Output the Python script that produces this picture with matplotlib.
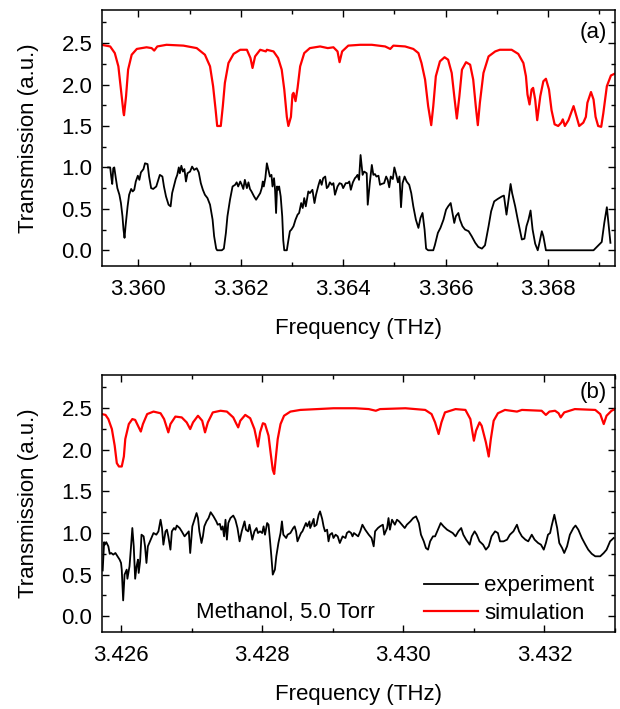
import matplotlib
matplotlib.use("Agg")
import matplotlib.pyplot as plt
from matplotlib.ticker import MultipleLocator, FormatStrFormatter

plt.rcParams["font.family"] = ["Liberation Sans", "DejaVu Sans"]

# (a) simulation, 3.359-3.369 THz
sim_a_freq = [3.35928, 3.35945, 3.35954, 3.35961, 3.35966, 3.35971, 3.35972, 3.35976, 3.35980,
              3.35987, 3.35997, 3.36016, 3.36026, 3.36031, 3.36037, 3.36055, 3.36088, 3.36114,
              3.36130, 3.36140, 3.36146, 3.36151, 3.36154, 3.36161, 3.36165, 3.36169, 3.36176,
              3.36186, 3.36199, 3.36212, 3.36219, 3.36223, 3.36228, 3.36238, 3.36249, 3.36251,
              3.36264, 3.36273, 3.36280, 3.36285, 3.36290, 3.36293, 3.36298, 3.36301, 3.36303,
              3.36307, 3.36311, 3.36316, 3.36324, 3.36335, 3.36355, 3.36370, 3.36381, 3.36389,
              3.36393, 3.36398, 3.36410, 3.36433, 3.36456, 3.36482, 3.36492, 3.36498, 3.36521,
              3.36537, 3.36547, 3.36553, 3.36560, 3.36566, 3.36572, 3.36576, 3.36581, 3.36589,
              3.36598, 3.36605, 3.36612, 3.36617, 3.36622, 3.36627, 3.36632, 3.36640, 3.36648,
              3.36654, 3.36659, 3.36663, 3.36667, 3.36674, 3.36684, 3.36697, 3.36706, 3.36729,
              3.36742, 3.36752, 3.36757, 3.36760, 3.36764, 3.36768, 3.36771, 3.36775, 3.36779,
              3.36785, 3.36791, 3.36796, 3.36802, 3.36807, 3.36813, 3.36820, 3.36826, 3.36829,
              3.36833, 3.36840, 3.36850, 3.36856, 3.36861, 3.36869, 3.36874, 3.36877, 3.36884,
              3.36889, 3.36893, 3.36898, 3.36904, 3.36908, 3.36915, 3.36923, 3.36930]
sim_a_val = [2.48, 2.46, 2.38, 2.22, 1.94, 1.66, 1.63, 1.86, 2.18,
             2.36, 2.43, 2.45, 2.44, 2.41, 2.46, 2.48, 2.47, 2.44,
             2.36, 2.22, 1.98, 1.69, 1.50, 1.50, 1.74, 2.02, 2.26,
             2.37, 2.42, 2.42, 2.32, 2.20, 2.34, 2.42, 2.40, 2.42,
             2.40, 2.32, 2.18, 1.94, 1.61, 1.50, 1.61, 1.88, 1.90,
             1.80, 1.96, 2.22, 2.38, 2.44, 2.46, 2.44, 2.45, 2.40,
             2.27, 2.40, 2.47, 2.48, 2.48, 2.46, 2.43, 2.47, 2.46,
             2.43, 2.38, 2.26, 2.06, 1.74, 1.51, 1.74, 2.10, 2.28,
             2.33, 2.30, 2.14, 1.86, 1.59, 1.86, 2.18, 2.27, 2.24,
             2.06, 1.74, 1.51, 1.78, 2.14, 2.34, 2.40, 2.42, 2.42,
             2.37, 2.26, 2.10, 1.88, 1.76, 1.94, 1.96, 1.82, 1.57,
             1.86, 2.04, 2.07, 1.94, 1.69, 1.52, 1.50, 1.54, 1.58,
             1.50, 1.57, 1.74, 1.61, 1.50, 1.54, 1.61, 1.78, 1.91,
             1.82, 1.61, 1.50, 1.49, 1.65, 1.98, 2.11, 2.13]

# (a) experiment
exp_a_freq = [3.35941, 3.35945, 3.35947, 3.35949, 3.35951, 3.35953, 3.35956, 3.35959, 3.35963,
              3.35966, 3.35969, 3.35971, 3.35973, 3.35975, 3.35979, 3.35982, 3.35986, 3.35989,
              3.35992, 3.35995, 3.35999, 3.36002, 3.36005, 3.36010, 3.36013, 3.36018, 3.36021,
              3.36025, 3.36029, 3.36035, 3.36038, 3.36042, 3.36047, 3.36050, 3.36054, 3.36059,
              3.36063, 3.36066, 3.36070, 3.36073, 3.36076, 3.36079, 3.36081, 3.36084, 3.36087,
              3.36090, 3.36093, 3.36096, 3.36101, 3.36105, 3.36109, 3.36114, 3.36118, 3.36122,
              3.36126, 3.36130, 3.36135, 3.36140, 3.36145, 3.36148, 3.36152, 3.36154, 3.36163,
              3.36167, 3.36171, 3.36174, 3.36179, 3.36184, 3.36189, 3.36192, 3.36195, 3.36199,
              3.36202, 3.36205, 3.36208, 3.36212, 3.36215, 3.36218, 3.36221, 3.36226, 3.36230,
              3.36234, 3.36238, 3.36241, 3.36243, 3.36245, 3.36248, 3.36251, 3.36254, 3.36257,
              3.36260, 3.36262, 3.36265, 3.36267, 3.36269, 3.36271, 3.36273, 3.36275, 3.36278,
              3.36281, 3.36283, 3.36285, 3.36290, 3.36293, 3.36296, 3.36299, 3.36303, 3.36307,
              3.36311, 3.36314, 3.36318, 3.36321, 3.36324, 3.36327, 3.36332, 3.36335, 3.36340,
              3.36344, 3.36347, 3.36352, 3.36355, 3.36358, 3.36361, 3.36365, 3.36368, 3.36371,
              3.36374, 3.36378, 3.36381, 3.36384, 3.36389, 3.36393, 3.36397, 3.36400, 3.36405,
              3.36409, 3.36412, 3.36415, 3.36419, 3.36423, 3.36426, 3.36428, 3.36431, 3.36434,
              3.36438, 3.36441, 3.36446, 3.36448, 3.36452, 3.36456, 3.36459, 3.36462, 3.36465,
              3.36469, 3.36472, 3.36475, 3.36480, 3.36484, 3.36487, 3.36490, 3.36493, 3.36497,
              3.36500, 3.36503, 3.36507, 3.36510, 3.36513, 3.36516, 3.36520, 3.36524, 3.36529,
              3.36533, 3.36537, 3.36542, 3.36547, 3.36551, 3.36555, 3.36559, 3.36562, 3.36566,
              3.36576, 3.36579, 3.36585, 3.36590, 3.36596, 3.36601, 3.36605, 3.36610, 3.36613,
              3.36617, 3.36620, 3.36625, 3.36628, 3.36633, 3.36638, 3.36645, 3.36651, 3.36658,
              3.36664, 3.36671, 3.36677, 3.36684, 3.36689, 3.36695, 3.36702, 3.36710, 3.36714,
              3.36719, 3.36723, 3.36727, 3.36730, 3.36736, 3.36741, 3.36745, 3.36749, 3.36754,
              3.36758, 3.36762, 3.36766, 3.36770, 3.36775, 3.36780, 3.36783, 3.36788, 3.36791,
              3.36796, 3.36889, 3.36905, 3.36910, 3.36915, 3.36918, 3.36922]
exp_a_val = [1.00, 1.00, 0.89, 0.80, 0.99, 1.00, 0.87, 0.75, 0.67,
             0.57, 0.41, 0.25, 0.15, 0.29, 0.53, 0.67, 0.74, 0.71,
             0.73, 0.83, 0.90, 0.85, 0.94, 0.98, 1.05, 1.04, 0.89,
             0.75, 0.74, 0.77, 0.83, 0.91, 0.89, 0.77, 0.65, 0.55,
             0.53, 0.69, 0.79, 0.86, 0.91, 1.00, 0.93, 1.02, 0.95,
             0.98, 0.83, 0.93, 0.95, 1.01, 0.97, 0.99, 0.94, 0.81,
             0.73, 0.67, 0.63, 0.55, 0.37, 0.17, 0.02, 0.00, 0.00,
             0.02, 0.21, 0.41, 0.61, 0.77, 0.79, 0.82, 0.77, 0.83,
             0.79, 0.74, 0.85, 0.75, 0.82, 0.74, 0.71, 0.65, 0.61,
             0.65, 0.69, 0.75, 0.83, 0.77, 0.87, 1.05, 0.97, 0.89,
             0.91, 0.77, 0.87, 0.73, 0.45, 0.77, 0.73, 0.77, 0.65,
             0.41, 0.12, 0.00, 0.00, 0.12, 0.23, 0.25, 0.29, 0.37,
             0.43, 0.45, 0.57, 0.51, 0.63, 0.53, 0.71, 0.69, 0.73,
             0.57, 0.67, 0.79, 0.85, 0.79, 0.87, 0.89, 0.75, 0.77,
             0.82, 0.79, 0.81, 0.67, 0.77, 0.81, 0.80, 0.75, 0.81,
             0.81, 0.83, 0.73, 0.82, 0.87, 0.89, 0.91, 0.85, 1.15,
             0.91, 0.95, 0.93, 0.55, 0.81, 1.03, 0.91, 0.92, 0.89,
             0.90, 0.79, 0.80, 0.81, 0.89, 0.85, 0.76, 0.89, 0.86,
             1.00, 0.93, 0.82, 0.89, 0.52, 0.81, 0.89, 0.83, 0.79,
             0.69, 0.53, 0.37, 0.27, 0.39, 0.45, 0.25, 0.02, 0.00,
             0.00, 0.06, 0.21, 0.27, 0.37, 0.49, 0.53, 0.57, 0.47,
             0.33, 0.41, 0.45, 0.37, 0.29, 0.25, 0.23, 0.17, 0.09,
             0.04, 0.02, 0.06, 0.29, 0.47, 0.59, 0.62, 0.65, 0.66,
             0.43, 0.61, 0.80, 0.69, 0.53, 0.37, 0.25, 0.13, 0.14,
             0.29, 0.37, 0.48, 0.25, 0.08, 0.00, 0.08, 0.23, 0.17,
             0.00, 0.00, 0.10, 0.33, 0.52, 0.33, 0.09]

# (b) simulation, 3.4257-3.4330 THz
sim_b_freq = [3.42573, 3.42578, 3.42582, 3.42587, 3.42591, 3.42594, 3.42597, 3.42601, 3.42604,
              3.42606, 3.42611, 3.42616, 3.42620, 3.42624, 3.42628, 3.42631, 3.42637, 3.42646,
              3.42656, 3.42661, 3.42664, 3.42667, 3.42670, 3.42677, 3.42686, 3.42693, 3.42698,
              3.42702, 3.42709, 3.42715, 3.42719, 3.42723, 3.42730, 3.42741, 3.42750, 3.42759,
              3.42763, 3.42766, 3.42769, 3.42776, 3.42783, 3.42789, 3.42792, 3.42794, 3.42797,
              3.42801, 3.42804, 3.42809, 3.42812, 3.42815, 3.42817, 3.42819, 3.42822, 3.42826,
              3.42831, 3.42840, 3.42854, 3.42878, 3.42901, 3.42932, 3.42951, 3.42961, 3.42967,
              3.43003, 3.43031, 3.43040, 3.43045, 3.43050, 3.43054, 3.43059, 3.43074, 3.43088,
              3.43095, 3.43098, 3.43100, 3.43103, 3.43108, 3.43111, 3.43117, 3.43121, 3.43124,
              3.43128, 3.43134, 3.43144, 3.43161, 3.43168, 3.43196, 3.43202, 3.43207, 3.43215,
              3.43220, 3.43223, 3.43228, 3.43243, 3.43272, 3.43279, 3.43284, 3.43288, 3.43295,
              3.43300]
sim_b_val = [2.43, 2.42, 2.37, 2.25, 2.05, 1.84, 1.80, 1.80, 1.92,
             2.13, 2.31, 2.37, 2.36, 2.29, 2.22, 2.31, 2.43, 2.46,
             2.44, 2.37, 2.29, 2.21, 2.31, 2.40, 2.39, 2.33, 2.25,
             2.33, 2.41, 2.35, 2.21, 2.33, 2.45, 2.47, 2.46, 2.39,
             2.32, 2.27, 2.35, 2.42, 2.38, 2.25, 2.13, 2.04, 2.21,
             2.32, 2.31, 2.17, 1.96, 1.76, 1.71, 1.88, 2.13, 2.31,
             2.41, 2.46, 2.48, 2.49, 2.50, 2.50, 2.49, 2.47, 2.49,
             2.50, 2.48, 2.43, 2.33, 2.19, 2.33, 2.45, 2.49, 2.48,
             2.37, 2.21, 2.11, 2.23, 2.33, 2.29, 2.09, 1.92, 2.13,
             2.35, 2.44, 2.48, 2.46, 2.48, 2.47, 2.42, 2.46, 2.47,
             2.44, 2.39, 2.45, 2.49, 2.48, 2.43, 2.31, 2.41, 2.47,
             2.49]

# (b) experiment
exp_b_freq = [3.42574, 3.42576, 3.42577, 3.42579, 3.42582, 3.42584, 3.42586, 3.42589, 3.42592,
              3.42595, 3.42598, 3.42600, 3.42601, 3.42603, 3.42605, 3.42608, 3.42609, 3.42612,
              3.42614, 3.42616, 3.42618, 3.42620, 3.42622, 3.42624, 3.42625, 3.42627, 3.42629,
              3.42632, 3.42634, 3.42636, 3.42638, 3.42641, 3.42644, 3.42646, 3.42650, 3.42653,
              3.42656, 3.42658, 3.42660, 3.42663, 3.42665, 3.42667, 3.42670, 3.42672, 3.42675,
              3.42677, 3.42679, 3.42683, 3.42686, 3.42690, 3.42692, 3.42696, 3.42698, 3.42701,
              3.42704, 3.42707, 3.42709, 3.42711, 3.42714, 3.42716, 3.42718, 3.42721, 3.42724,
              3.42727, 3.42731, 3.42735, 3.42737, 3.42740, 3.42742, 3.42744, 3.42746, 3.42748,
              3.42750, 3.42752, 3.42755, 3.42759, 3.42762, 3.42765, 3.42768, 3.42771, 3.42775,
              3.42777, 3.42780, 3.42782, 3.42786, 3.42789, 3.42792, 3.42794, 3.42797, 3.42800,
              3.42802, 3.42804, 3.42807, 3.42809, 3.42811, 3.42813, 3.42815, 3.42818, 3.42820,
              3.42823, 3.42826, 3.42828, 3.42830, 3.42834, 3.42836, 3.42840, 3.42844, 3.42846,
              3.42848, 3.42850, 3.42853, 3.42855, 3.42857, 3.42860, 3.42862, 3.42864, 3.42867,
              3.42868, 3.42870, 3.42873, 3.42874, 3.42877, 3.42880, 3.42882, 3.42885, 3.42887,
              3.42889, 3.42892, 3.42894, 3.42896, 3.42899, 3.42901, 3.42904, 3.42907, 3.42910,
              3.42912, 3.42914, 3.42918, 3.42920, 3.42923, 3.42926, 3.42928, 3.42930, 3.42936,
              3.42939, 3.42942, 3.42946, 3.42951, 3.42955, 3.42958, 3.42960, 3.42964, 3.42967,
              3.42971, 3.42973, 3.42977, 3.42979, 3.42981, 3.42984, 3.42988, 3.42991, 3.42994,
              3.42998, 3.43002, 3.43005, 3.43010, 3.43014, 3.43018, 3.43022, 3.43025, 3.43029,
              3.43032, 3.43035, 3.43038, 3.43042, 3.43045, 3.43049, 3.43053, 3.43057, 3.43062,
              3.43066, 3.43070, 3.43074, 3.43078, 3.43082, 3.43085, 3.43089, 3.43094, 3.43097,
              3.43101, 3.43104, 3.43108, 3.43113, 3.43117, 3.43121, 3.43125, 3.43130, 3.43134,
              3.43137, 3.43142, 3.43147, 3.43151, 3.43156, 3.43161, 3.43164, 3.43168, 3.43173,
              3.43177, 3.43182, 3.43186, 3.43191, 3.43195, 3.43199, 3.43202, 3.43205, 3.43208,
              3.43210, 3.43214, 3.43218, 3.43221, 3.43225, 3.43228, 3.43232, 3.43236, 3.43241,
              3.43244, 3.43248, 3.43253, 3.43258, 3.43262, 3.43267, 3.43272, 3.43279, 3.43284,
              3.43288, 3.43293, 3.43298]
exp_b_val = [0.55, 0.89, 0.86, 0.89, 0.84, 0.75, 0.76, 0.74, 0.76,
             0.72, 0.68, 0.64, 0.56, 0.19, 0.50, 0.56, 0.45, 0.60,
             0.82, 1.06, 0.84, 0.45, 0.60, 0.68, 0.52, 0.66, 0.98,
             0.96, 0.84, 0.64, 0.84, 0.90, 0.96, 1.00, 0.98, 1.02,
             1.16, 1.06, 0.86, 1.02, 1.04, 0.96, 0.80, 1.02, 1.06,
             1.04, 1.09, 1.06, 1.02, 0.96, 0.98, 1.02, 0.76, 1.08,
             1.16, 1.24, 1.18, 1.02, 0.88, 0.96, 1.08, 1.14, 1.18,
             1.25, 1.20, 1.14, 1.10, 1.11, 1.04, 1.08, 0.96, 1.16,
             0.92, 1.12, 1.18, 1.21, 1.16, 1.06, 0.90, 1.02, 1.14,
             1.04, 1.02, 1.10, 0.92, 1.02, 1.06, 1.00, 1.02, 1.00,
             1.08, 0.98, 1.12, 1.10, 0.92, 0.72, 0.50, 0.56, 0.72,
             0.88, 1.00, 1.14, 0.98, 0.94, 0.98, 1.00, 1.06, 1.08,
             1.02, 0.90, 0.96, 1.00, 1.02, 1.08, 1.12, 1.08, 1.14,
             1.06, 1.10, 1.17, 1.08, 1.10, 1.22, 1.26, 1.17, 1.08,
             1.02, 1.04, 0.90, 0.98, 1.00, 0.94, 0.98, 0.96, 0.88,
             0.92, 0.96, 0.94, 1.00, 1.02, 1.00, 0.96, 1.00, 0.96,
             1.02, 1.10, 1.04, 0.98, 0.94, 0.84, 1.02, 1.06, 1.08,
             1.10, 0.98, 1.06, 1.18, 1.04, 1.16, 1.10, 1.16, 1.14,
             1.10, 1.06, 1.10, 1.14, 1.18, 1.20, 1.12, 0.98, 0.90,
             0.82, 0.80, 0.90, 0.96, 0.96, 1.04, 1.12, 1.08, 1.04,
             1.02, 1.00, 0.96, 1.02, 1.06, 0.98, 0.92, 0.86, 0.96,
             1.02, 0.98, 0.90, 0.86, 0.80, 0.84, 0.96, 1.02, 1.00,
             0.90, 0.90, 0.92, 0.98, 1.02, 1.10, 1.02, 0.96, 0.92,
             0.90, 0.98, 0.92, 0.88, 0.86, 0.80, 0.88, 0.98, 1.00,
             1.08, 1.22, 1.06, 0.88, 0.82, 0.76, 0.84, 0.98, 1.06,
             1.09, 1.04, 0.94, 0.86, 0.80, 0.75, 0.72, 0.72, 0.76,
             0.80, 0.90, 0.94]

a_xlim = (3.35929, 3.36931)
b_xlim = (3.42573, 3.43300)
ylim = (-0.19, 2.90)
fs = 16

fig = plt.figure(figsize=(6.2, 7.09), dpi=100)
ax1 = fig.add_axes([0.1645, 0.6248, 0.8275, 0.3611])
ax2 = fig.add_axes([0.1645, 0.1086, 0.8275, 0.3625])

ax1.plot(exp_a_freq, exp_a_val, color="black", lw=1.3)
ax1.plot(sim_a_freq, sim_a_val, color="red", lw=1.6)
l1, = ax2.plot(exp_b_freq, exp_b_val, color="black", lw=1.3, label="experiment")
l2, = ax2.plot(sim_b_freq, sim_b_val, color="red", lw=1.6, label="simulation")

ax1.set_xlim(*a_xlim)
ax2.set_xlim(*b_xlim)
for ax in (ax1, ax2):
    ax.set_ylim(*ylim)
    ax.xaxis.set_major_locator(MultipleLocator(0.002))
    ax.xaxis.set_minor_locator(MultipleLocator(0.001))
    ax.xaxis.set_major_formatter(FormatStrFormatter("%.3f"))
    ax.yaxis.set_major_locator(MultipleLocator(0.5))
    ax.yaxis.set_minor_locator(MultipleLocator(0.25))
    ax.yaxis.set_major_formatter(FormatStrFormatter("%.1f"))
    ax.tick_params(which="both", direction="in", top=True, right=True, labelsize=fs, width=1.0)
    ax.tick_params(which="major", length=5)
    ax.tick_params(which="minor", length=3)
    ax.tick_params(axis="x", pad=9)
    ax.tick_params(axis="y", pad=7)
    for s in ax.spines.values():
        s.set_linewidth(1.1)
    ax.set_xlabel("Frequency (THz)", fontsize=fs, labelpad=13)
    ax.set_ylabel("Transmission (a.u.)", fontsize=fs, labelpad=16)

ax1.text(0.984, 0.89, "(a)", transform=ax1.transAxes, ha="right", va="baseline", fontsize=fs)
ax2.text(0.984, 0.91, "(b)", transform=ax2.transAxes, ha="right", va="baseline", fontsize=fs)
ax2.text(0.183, 0.055, "Methanol, 5.0 Torr", transform=ax2.transAxes, ha="left", va="baseline",
         fontsize=fs)
ax2.legend(handles=[l1, l2], loc="lower right", bbox_to_anchor=(0.99, -0.03), frameon=False,
           fontsize=fs, handlelength=2.4, handletextpad=0.3, labelspacing=0.3, borderaxespad=0.3)

fig.savefig("out.png", dpi=100)
